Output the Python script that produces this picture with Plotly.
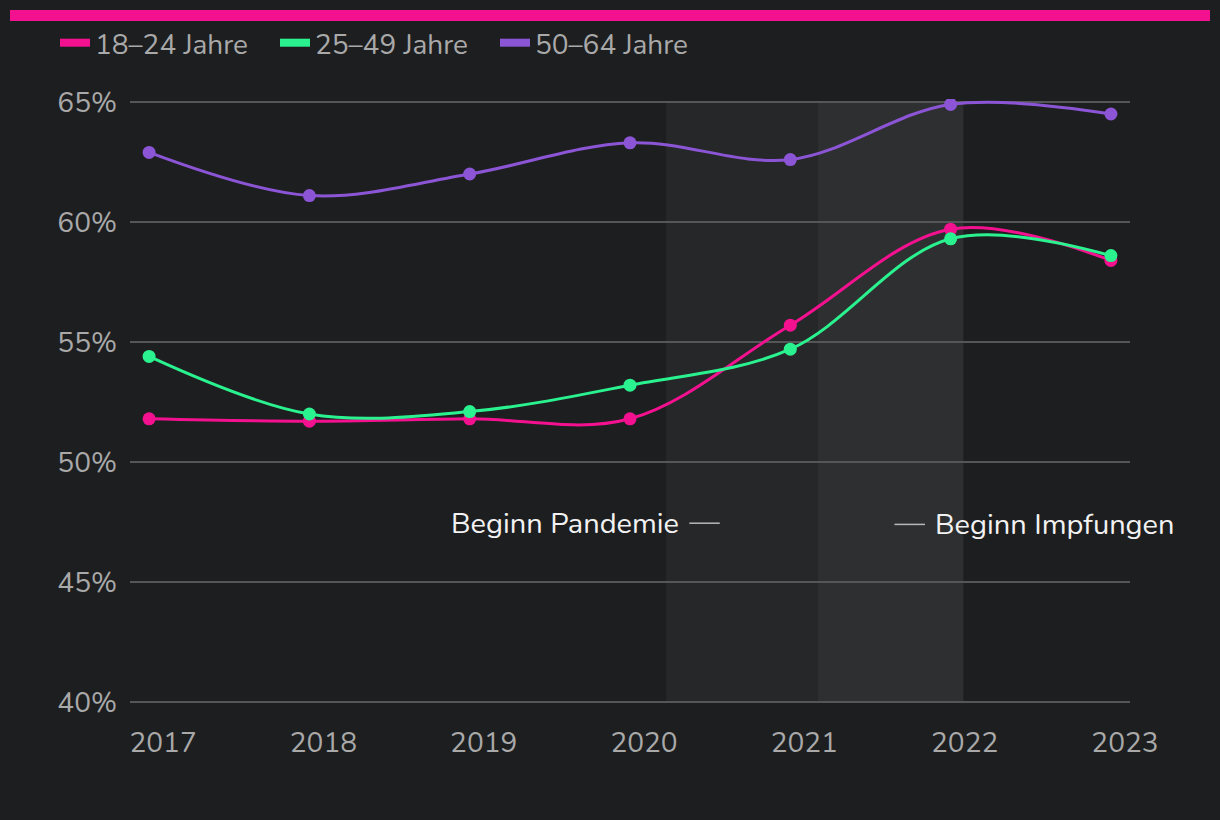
import plotly.graph_objects as go

years = [2017, 2018, 2019, 2020, 2021, 2022, 2023]
s18_24 = [51.8, 51.7, 51.8, 51.8, 55.7, 59.7, 58.4]
s25_49 = [54.4, 52.0, 52.1, 53.2, 54.7, 59.3, 58.6]
s50_64 = [62.9, 61.1, 62.0, 63.3, 62.6, 64.9, 64.5]
names = ["18–24 Jahre", "25–49 Jahre", "50–64 Jahre"]
colors = ["#f4118f", "#2af28f", "#8b55d6"]
y_ticks = [40, 45, 50, 55, 60, 65]

BG = "#1d1e20"
FONT = "Nunito, Lato, 'Open Sans', sans-serif"

fig = go.Figure()
for name, vals, col in zip(names, [s18_24, s25_49, s50_64], colors):
    fig.add_trace(go.Scatter(
        x=years, y=vals, mode="lines+markers", name=name,
        line=dict(color=col, width=3, shape="spline", smoothing=1),
        marker=dict(color=col, size=13),
        showlegend=False, hoverinfo="skip"))
for name, col in zip(names, colors):
    fig.add_trace(go.Scatter(
        x=[None], y=[None], mode="lines", name=name,
        line=dict(color=col, width=8), showlegend=True))

# shaded periods
fig.add_shape(type="rect", xref="x", yref="y", x0=2020.225, x1=2021.17, y0=40, y1=65,
              fillcolor="#262729", line_width=0, layer="below")
fig.add_shape(type="rect", xref="x", yref="y", x0=2021.17, x1=2022.08, y0=40, y1=65,
              fillcolor="#2e2f31", line_width=0, layer="below")
# top pink bar
fig.add_shape(type="rect", xref="paper", yref="paper", x0=-0.12, x1=1.08, y0=1.1287, y1=1.1469,
              fillcolor="#f4118f", line_width=0)

# annotation dashes
fig.add_shape(type="line", xref="x", yref="y", x0=2020.37, x1=2020.56, y0=47.45, y1=47.45,
              line=dict(color="#b8b8b8", width=1.5))
fig.add_shape(type="line", xref="x", yref="y", x0=2021.65, x1=2021.84, y0=47.4, y1=47.4,
              line=dict(color="#b8b8b8", width=1.5))
fig.add_annotation(x=2020.318, y=47.45, xref="x", yref="y", text="Beginn Pandemie",
                   showarrow=False, xanchor="right", yanchor="middle",
                   font=dict(family=FONT, size=29, color="#f2f2f2"))
fig.add_annotation(x=2021.89, y=47.4, xref="x", yref="y", text="Beginn Impfungen",
                   showarrow=False, xanchor="left", yanchor="middle",
                   font=dict(family=FONT, size=29, color="#f2f2f2"))

fig.update_layout(
    width=1220, height=820,
    paper_bgcolor=BG, plot_bgcolor=BG,
    margin=dict(l=130, r=90, t=99, b=115),
    font=dict(family=FONT, color="#a9a9a9", size=28),
    legend=dict(orientation="h", x=-0.075, xanchor="left", y=1.0924, yanchor="middle",
                bgcolor="rgba(0,0,0,0)", font=dict(size=28, color="#a9a9a9"),
                entrywidth=175, itemwidth=30, traceorder="normal"),
    xaxis=dict(range=[2016.881, 2023.119], tickvals=years, ticktext=[str(y) for y in years],
               showgrid=False, zeroline=False, showline=False, ticks="",
               ticklabelshift=14, ticklabelstandoff=18,
               tickfont=dict(family=FONT, size=28, color="#a9a9a9")),
    yaxis=dict(range=[39.875, 65.125], tickvals=y_ticks, ticktext=[f"{v}%" for v in y_ticks],
               showgrid=True, gridcolor="#555658", gridwidth=2, zeroline=False,
               showline=False, ticks="", ticklabelstandoff=12,
               tickfont=dict(family=FONT, size=28, color="#a9a9a9")),
    hovermode=False,
)

fig.write_html("out.html", config={"displayModeBar": False, "staticPlot": True},
               post_script="document.body.style.margin='0';document.body.style.background='#1d1e20';")
